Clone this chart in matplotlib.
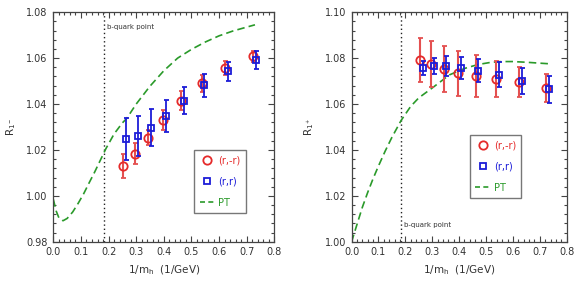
import matplotlib
matplotlib.use("Agg")
import matplotlib.pyplot as plt
from matplotlib.ticker import MultipleLocator
from matplotlib.lines import Line2D

# ---- data ----
x_circ = [0.254, 0.295, 0.343, 0.397, 0.462, 0.537, 0.622, 0.723]
x_sq = [0.264, 0.305, 0.353, 0.408, 0.472, 0.547, 0.633, 0.733]

# left panel R_1-
L_circ_y = [1.0131, 1.0184, 1.0253, 1.0330, 1.0415, 1.0490, 1.0558, 1.0608]
L_circ_e = [0.0051, 0.0045, 0.0032, 0.0042, 0.0040, 0.0036, 0.0030, 0.0025]
L_sq_y = [1.0248, 1.0262, 1.0297, 1.0349, 1.0415, 1.0481, 1.0543, 1.0593]
L_sq_e = [0.0090, 0.0088, 0.0081, 0.0070, 0.0060, 0.0049, 0.0042, 0.0040]
L_pt_x = [0.0, 0.01, 0.02, 0.035, 0.05, 0.07, 0.09, 0.11, 0.13, 0.15, 0.17, 0.19,
          0.22, 0.25, 0.266, 0.3, 0.35, 0.4, 0.45, 0.5, 0.55, 0.6, 0.65, 0.7, 0.73]
L_pt_y = [0.9985, 0.9935, 0.9905, 0.9892, 0.9902, 0.9930, 0.9968, 1.0010, 1.0058,
          1.0105, 1.0155, 1.0205, 1.0270, 1.0318, 1.0338, 1.0400, 1.0478, 1.0545,
          1.0600, 1.0638, 1.0670, 1.0697, 1.0718, 1.0735, 1.0745]

# right panel R_1+
R_circ_y = [1.0792, 1.0773, 1.0753, 1.0734, 1.0722, 1.0708, 1.0695, 1.0671]
R_circ_e = [0.0097, 0.0100, 0.0100, 0.0097, 0.0090, 0.0078, 0.0066, 0.0062]
R_sq_y = [1.0756, 1.0766, 1.0766, 1.0756, 1.0744, 1.0727, 1.0700, 1.0664]
R_sq_e = [0.0030, 0.0034, 0.0044, 0.0047, 0.0050, 0.0054, 0.0056, 0.0058]
R_pt_x = [0.0, 0.02, 0.04, 0.06, 0.08, 0.1, 0.125, 0.15, 0.185, 0.22, 0.25, 0.3,
          0.364, 0.42, 0.47, 0.52, 0.56, 0.6, 0.65, 0.7, 0.74]
R_pt_y = [1.000, 1.0075, 1.0150, 1.0215, 1.0275, 1.0330, 1.0395, 1.0455, 1.0530,
          1.0590, 1.0627, 1.0670, 1.0727, 1.0755, 1.0772, 1.0782, 1.0785, 1.0785,
          1.0782, 1.0778, 1.0775]

b_quark = 0.185
labels = ["(r,-r)", "(r,r)", "PT"]

RED = "#e52a2a"
RED_E = "#e45050"
BLUE = "#1c1cd8"
GREEN = "#2a9a2a"
TXT = "#333333"

plt.rcParams['font.family'] = ['DejaVu Sans']
fig = plt.figure(figsize=(5.83, 2.90), dpi=100)
ax1 = fig.add_axes([0.0915, 0.166, 0.379, 0.792])
ax2 = fig.add_axes([0.603, 0.166, 0.369, 0.792])


def style(ax, ylo, yhi):
    ax.set_xlim(0, 0.8)
    ax.set_ylim(ylo, yhi)
    ax.xaxis.set_major_locator(MultipleLocator(0.1))
    ax.xaxis.set_minor_locator(MultipleLocator(0.02))
    ax.yaxis.set_major_locator(MultipleLocator(0.02))
    ax.yaxis.set_minor_locator(MultipleLocator(0.004))
    ax.xaxis.set_major_formatter(matplotlib.ticker.FormatStrFormatter('%.1f'))
    ax.yaxis.set_major_formatter(matplotlib.ticker.FormatStrFormatter('%.2f'))
    ax.tick_params(which='both', direction='in', top=True, right=True,
                   colors='#444444', labelcolor=TXT, labelsize=7, width=0.8)
    ax.tick_params(which='major', length=4.5, pad=4)
    ax.tick_params(which='minor', length=2.5)
    for s in ax.spines.values():
        s.set_color('#444444')
        s.set_linewidth(0.9)
    ax.set_xlabel(r'1/m$_\mathregular{h}$  (1/GeV)', fontsize=7.5, color=TXT, labelpad=4)


def draw(ax, cy, ce, sy, se, px, py):
    ax.errorbar(x_circ, cy, yerr=ce, fmt='o', mfc='none', mec=RED, mew=1.3, ms=6,
                ecolor=RED_E, elinewidth=1.5, capsize=1.8, capthick=1.2, zorder=3)
    ax.errorbar(x_sq, sy, yerr=se, fmt='s', mfc='none', mec=BLUE, mew=1.3, ms=5,
                ecolor=BLUE, elinewidth=1.3, capsize=1.8, capthick=1.2, zorder=4)
    ax.plot(px, py, color=GREEN, ls=(0, (4.5, 2.5)), lw=1.2, zorder=2)
    ax.axvline(b_quark, color='#222222', ls=(0, (1, 2)), lw=1.0, zorder=1)


def legend(ax, loc):
    handles = [Line2D([], [], ls='none', marker='o', mfc='none', mec=RED, mew=1.3, ms=6),
               Line2D([], [], ls='none', marker='s', mfc='none', mec=BLUE, mew=1.3, ms=5),
               Line2D([], [], color=GREEN, ls=(0, (3, 2)), lw=1.2)]
    leg = ax.legend(handles, labels, loc='upper left', bbox_to_anchor=loc,
                    fontsize=7, frameon=True, fancybox=False, handlelength=1.6,
                    handletextpad=0.3, labelspacing=1.15, borderpad=0.55,
                    borderaxespad=0)
    leg.get_frame().set_edgecolor('#555555')
    leg.get_frame().set_linewidth(1.0)
    for t, c in zip(leg.get_texts(), [RED, BLUE, GREEN]):
        t.set_color(c)


style(ax1, 0.98, 1.08)
draw(ax1, L_circ_y, L_circ_e, L_sq_y, L_sq_e, L_pt_x, L_pt_y)
ax1.set_ylabel(r'R$_{1^-}$', fontsize=7.5, color=TXT, labelpad=6)
ax1.text(b_quark + 0.01, 1.0735, 'b-quark point', fontsize=5, color=TXT, va='center')
legend(ax1, (0.638, 0.40))

style(ax2, 1.00, 1.10)
draw(ax2, R_circ_y, R_circ_e, R_sq_y, R_sq_e, R_pt_x, R_pt_y)
ax2.set_ylabel(r'R$_{1^+}$', fontsize=7.5, color=TXT, labelpad=6)
ax2.text(b_quark + 0.01, 1.0075, 'b-quark point', fontsize=5, color=TXT, va='center')
legend(ax2, (0.55, 0.465))

fig.savefig('out.png', dpi=100)
